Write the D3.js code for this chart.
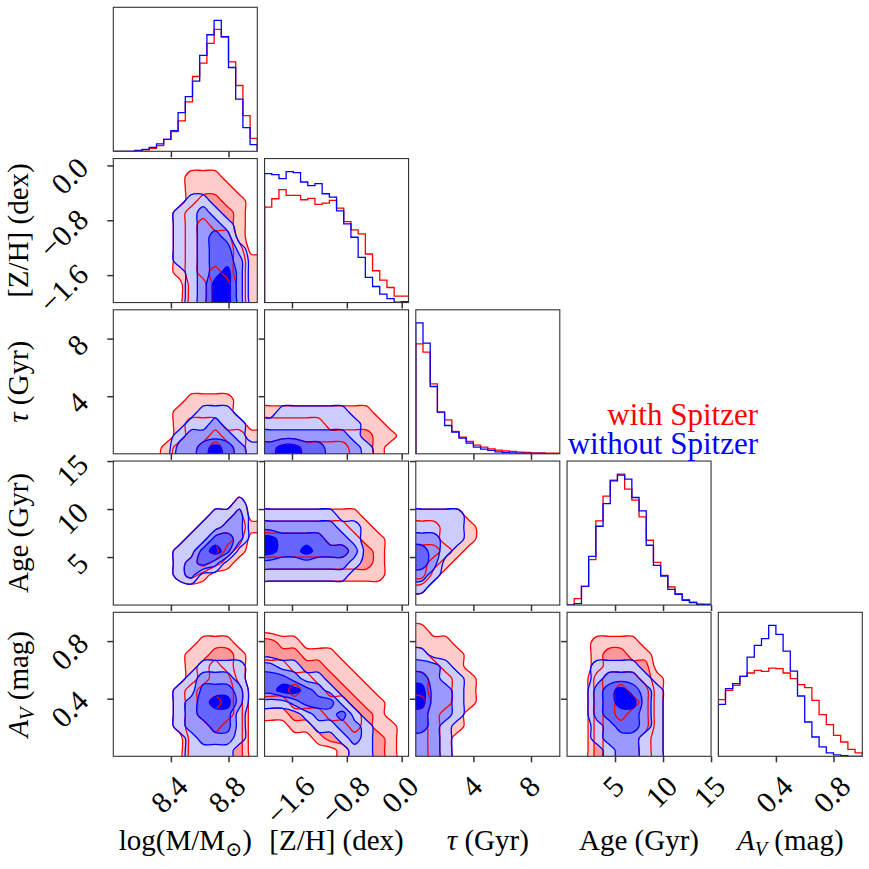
<!DOCTYPE html>
<html lang="en">
<head>
<meta charset="UTF-8">
<title>Corner plot: with / without Spitzer</title>
<script src="https://d3js.org/d3.v7.min.js"></script>
<style>
  body { margin: 0; background: #fff; }
  svg text { font-family: "Liberation Serif", "DejaVu Serif", serif; fill: #000; }
  .tick line { stroke: #333; stroke-width: 1.5; }
  .frame { fill: none; stroke: #333; stroke-width: 1.1; }
  .axis-label { font-size: 29px; }
  .legend { font-size: 31px; }
</style>
</head>
<body>
<svg width="869" height="869"></svg>
<script>
  // parameter order: log(M), [Z/H], tau, Age, A_V
  const axisRanges = [[8.0, 9.0], [-2.0, 0.1], [0, 10], [0, 15], [0, 1.0]];
  const axisTicks = [[8.4, 8.8], [-1.6, -0.8, 0.0], [4, 8], [5, 10, 15], [0.4, 0.8]];
  const axisTickText = [["8.4", "8.8"], ["−1.6", "−0.8", "0.0"], ["4", "8"], ["5", "10", "15"], ["0.4", "0.8"]];
  const axisLabelParts = [
    [["log(M/M", ""], ["⊙", "sub"], [")", ""]],
    [["[Z/H] (dex)", ""]],
    [["τ", "i"], [" (Gyr)", ""]],
    [["Age (Gyr)", ""]],
    [["A", "i"], ["V", "isub"], [" (mag)", ""]]
  ];
  const legendLabels = ["with Spitzer", "without Spitzer"];

  // 1D histograms, 20 bins over each range (relative counts)
  const histRedLogM  = [0, 0, 0, 2, 4, 9, 17, 36, 59, 91, 148, 224, 264, 323, 365, 343, 268, 197, 107, 39];
  const histBlueLogM = [0, 0, 0, 3, 6, 12, 22, 36, 62, 116, 164, 210, 287, 349, 392, 343, 251, 156, 71, 20];
  const histRedZH  = [285, 310, 337, 320, 320, 307, 311, 293, 297, 305, 282, 242, 217, 205, 145, 95, 67, 45, 19, 19];
  const histBlueZH = [385, 382, 370, 391, 388, 360, 349, 355, 325, 315, 274, 235, 195, 135, 75, 48, 25, 12, 1, 3];
  const histRedTau  = [330, 305, 210, 125, 102, 67, 50, 37, 26, 20, 15, 11, 9, 7, 5, 4, 3, 3, 2, 2];
  const histBlueTau = [393, 332, 202, 125, 85, 65, 47, 32, 20, 14, 10, 6, 4, 3, 2, 1.5, 1, 1, 0.5, 0.5];
  const histRedAge  = [0, 19, 56, 136, 252, 326, 374, 392, 347, 314, 264, 194, 128, 89, 54, 34, 16, 9, 3, 2];
  const histBlueAge = [0, 4, 56, 146, 236, 304, 372, 389, 377, 322, 282, 179, 119, 87, 47, 32, 14, 7, 2, 2];
  const histRedAv  = [170, 198, 213, 240, 250, 258, 255, 265, 263, 250, 233, 215, 206, 168, 125, 95, 63, 43, 21, 10];
  const histBlueAv = [156, 203, 218, 240, 298, 333, 353, 393, 366, 316, 256, 181, 103, 58, 28, 10, 4, 2, 0, 0];

  // 2D density levels on a 12x12 grid (rows top to bottom), 0 = outside, 4 = innermost
  const redZHLogM = ["000000000000", "000000111000", "000000111100", "000000122110", "000001222210", "000001232210",
                     "000001233310", "000001233320", "000001233321", "000001234321", "000000224421", "000000224421"];
  const blueZHLogM = ["000000000000", "000000000000", "000000000000", "000000110000", "000001121000", "000001122100",
                      "000001123200", "000001123310", "000001123320", "000000123420", "000000124420", "000000124420"];
  const redTauLogM = ["000000000000", "000000000000", "000000000000", "000000000000", "000000000000", "000000000000",
                      "000000000000", "000000111100", "000001111100", "000001222110", "000001223221", "000012234321"];
  const blueTauLogM = ["000000000000", "000000000000", "000000000000", "000000000000", "000000000000", "000000000000",
                       "000000000000", "000000000000", "000000011100", "000000112110", "000001222210", "000002234321"];
  const redTauZH = ["000000000000", "000000000000", "000000000000", "000000000000", "000000000000", "000000000000",
                    "000000000000", "000000000000", "111111111000", "222221111100", "222222222110", "344333322100"];
  const blueTauZH = ["000000000000", "000000000000", "000000000000", "000000000000", "000000000000", "000000000000",
                     "000000000000", "000000000000", "011111100000", "111111110000", "222222210000", "344332221000"];
  const redAgeLogM = ["000000000000", "000000000000", "000000000000", "000000000010", "000000001120", "000000011221",
                      "000000113320", "000001134210", "000001232100", "000001210000", "000000000000", "000000000000"];
  const blueAgeLogM = ["000000000000", "000000000000", "000000000000", "000000000010", "000000001120", "000000011220",
                       "000000113320", "000001134300", "000001232000", "000001200000", "000000000000", "000000000000"];
  const redAgeZH = ["000000000000", "000000000000", "000000000000", "000000000000", "111111110000", "222222211000",
                    "333332221100", "333333322100", "222222222100", "111111111100", "000000000000", "000000000000"];
  const blueAgeZH = ["000000000000", "000000000000", "000000000000", "000000000000", "111111000000", "222222110000",
                     "433332210000", "433433320000", "222222210000", "111111100000", "000000000000", "000000000000"];
  const redAgeTau = ["000000000000", "000000000000", "000000000000", "000000000000", "111100000000", "221110000000",
                     "221110000000", "332100000000", "321000000000", "310000000000", "100000000000", "000000000000"];
  const blueAgeTau = ["000000000000", "000000000000", "000000000000", "000000000000", "111100000000", "111100000000",
                      "221100000000", "321000000000", "320000000000", "210000000000", "100000000000", "000000000000"];
  const redAvLogM = ["000000000000", "000000000000", "000000011100", "000000112210", "000000123210", "000000123310",
                     "000001233320", "000001234320", "000001233320", "000001223220", "000000222220", "000000222220"];
  const blueAvLogM = ["000000000000", "000000000000", "000000000000", "000000000000", "000000011110", "000000122210",
                      "000001133320", "000001234420", "000001233310", "000001223310", "000000122210", "000000111100"];
  const redAvZH = ["000000000000", "000000000000", "211000000000", "222111000000", "332221100000", "333322110000",
                   "334332211000", "223333321100", "112223332100", "001122232110", "000012222210", "000000122210"];
  const blueAvZH = ["000000000000", "000000000000", "000000000000", "000000000000", "211000000000", "332110000000",
                    "344321000000", "112333100000", "000122310000", "000011221000", "000000121000", "000000011000"];
  const redAvTau = ["000000000000", "100000000000", "111000000000", "211100000000", "221100000000", "322110000000",
                    "322110000000", "422110000000", "321100000000", "321100000000", "321000000000", "321000000000"];
  const blueAvTau = ["000000000000", "000000000000", "000000000000", "100000000000", "221000000000", "321100000000",
                     "422100000000", "422100000000", "322100000000", "321000000000", "221000000000", "221000000000"];
  const redAvAge = ["000000000000", "000000000000", "001111000000", "001221100000", "001222200000", "002333210000",
                    "002343310000", "002344310000", "002343310000", "002333310000", "002333210000", "002333210000"];
  const blueAvAge = ["000000000000", "000000000000", "000000000000", "000000000000", "001111000000", "001222100000",
                     "002343210000", "002344210000", "002333210000", "001233210000", "001222110000", "000122110000"];

  const histRed = [histRedLogM, histRedZH, histRedTau, histRedAge, histRedAv];
  const histBlue = [histBlueLogM, histBlueZH, histBlueTau, histBlueAge, histBlueAv];
  const contourGrids = {
    "1,0": [redZHLogM, blueZHLogM],
    "2,0": [redTauLogM, blueTauLogM], "2,1": [redTauZH, blueTauZH],
    "3,0": [redAgeLogM, blueAgeLogM], "3,1": [redAgeZH, blueAgeZH], "3,2": [redAgeTau, blueAgeTau],
    "4,0": [redAvLogM, blueAvLogM], "4,1": [redAvZH, blueAvZH], "4,2": [redAvTau, blueAvTau], "4,3": [redAvAge, blueAvAge]
  };

  const nDim = 5, nBins = 20;
  const panelLeft = 113.3, panelTop = 7.3, panelStep = 151.25, panelSize = 144;
  const tickLen = 6, tickFont = 30, labelFont = 29;
  const serif = '"Liberation Serif", "DejaVu Serif", serif';
  const red = "#ff0000", blue = "#0000ff";
  const redFills = ["#ffcccc", "#ff9999", "#ff6666", "#ff0000"];
  const blueFills = ["#ccccff", "#9999ff", "#6666ff", "#0000ff"];
  const levels = [0.5, 1.5, 2.5, 3.5];

  const svg = d3.select("svg");

  // pad the grid by one replicated cell so contours run past the panel edge (then clipped)
  function gridContours(rows) {
    const m = rows.length, n = rows[0].length;
    const w = n + 2, h = m + 2;
    const values = new Array(w * h);
    for (let r = 0; r < h; r++) {
      const rr = Math.min(m - 1, Math.max(0, r - 1));
      for (let c = 0; c < w; c++) {
        const cc = Math.min(n - 1, Math.max(0, c - 1));
        values[r * w + c] = +rows[rr][cc];
      }
    }
    const contours = d3.contours().size([w, h]).thresholds(levels)(values);
    return {contours, n, m};
  }

  const ringLine = d3.line().curve(d3.curveCatmullRomClosed.alpha(0.5));

  // contour rings -> rounded svg path in pixel space
  function contourPath(info, x, y, xr, yr) {
    const toPx = ([gx, gy]) => [
      x(xr[0] + (gx - 1) / info.n * (xr[1] - xr[0])),
      y(yr[1] - (gy - 1) / info.m * (yr[1] - yr[0]))
    ];
    return multi => {
      let d = "";
      multi.coordinates.forEach(poly => poly.forEach(ring => {
        const pts = ring.slice(0, -1).map(toPx);
        if (pts.length > 2) d += ringLine(pts);
      }));
      return d || null;
    };
  }

  function styleTickText(sel) {
    sel.style("font-family", serif).style("font-size", tickFont + "px").style("fill", "#000");
  }

  for (let i = 0; i < nDim; i++) {
    for (let j = 0; j <= i; j++) {
      const left = panelLeft + j * panelStep;
      const top = panelTop + i * panelStep;
      const x = d3.scaleLinear().domain(axisRanges[j]).range([left, left + panelSize]);
      const clipId = `clip-${i}-${j}`;
      svg.append("clipPath").attr("id", clipId).append("rect")
        .attr("x", left).attr("y", top).attr("width", panelSize).attr("height", panelSize);

      const g = svg.append("g");
      const body = g.append("g").attr("clip-path", `url(#${clipId})`);
      let y;

      if (i === j) {
        const hr = histRed[i], hb = histBlue[i];
        y = d3.scaleLinear().domain([0, 1.1 * d3.max(hr.concat(hb))]).range([top + panelSize, top]);
        const r0 = axisRanges[i][0], r1 = axisRanges[i][1];
        const edges = d3.range(nBins + 1).map(k => r0 + k * (r1 - r0) / nBins);
        [[hr, red], [hb, blue]].forEach(([h, col]) => {
          const pts = [[edges[0], 0]];
          h.forEach((v, k) => { pts.push([edges[k], v], [edges[k + 1], v]); });
          pts.push([edges[nBins], 0]);
          body.append("path")
            .attr("d", d3.line().x(d => x(d[0])).y(d => y(d[1]))(pts))
            .attr("fill", "none").attr("stroke", col).attr("stroke-width", 1.3);
        });
      } else {
        y = d3.scaleLinear().domain(axisRanges[i]).range([top + panelSize, top]);
        const [redRows, blueRows] = contourGrids[`${i},${j}`];
        const rc = gridContours(redRows), bc = gridContours(blueRows);
        const rPath = contourPath(rc, x, y, axisRanges[j], axisRanges[i]);
        const bPath = contourPath(bc, x, y, axisRanges[j], axisRanges[i]);

        rc.contours.forEach((c, k) => body.append("path").attr("d", rPath(c))
          .attr("fill", redFills[k]).attr("fill-rule", "evenodd"));
        bc.contours.forEach((c, k) => body.append("path").attr("d", bPath(c))
          .attr("fill", blueFills[k]).attr("fill-rule", "evenodd"));
        rc.contours.forEach(c => body.append("path").attr("d", rPath(c))
          .attr("fill", "none").attr("stroke", red).attr("stroke-width", 1.3));
        bc.contours.forEach(c => body.append("path").attr("d", bPath(c))
          .attr("fill", "none").attr("stroke", blue).attr("stroke-width", 1.3));
      }

      g.append("rect").attr("class", "frame")
        .attr("x", left).attr("y", top).attr("width", panelSize).attr("height", panelSize);

      // x ticks on every panel, labels on the bottom row only
      const xAxis = d3.axisBottom(x).tickValues(axisTicks[j]).tickSize(tickLen).tickSizeOuter(0)
        .tickFormat(i === nDim - 1 ? (d, k) => axisTickText[j][k] : "");
      const gx = g.append("g").attr("transform", `translate(0,${top + panelSize})`).call(xAxis)
        .attr("font-size", null).attr("font-family", null);
      gx.select(".domain").remove();
      if (i === nDim - 1) {
        gx.selectAll(".tick text").call(styleTickText).each(function() {
          const w = this.getComputedTextLength();
          const s = (w + 0.66 * tickFont) / Math.SQRT2;
          d3.select(this).attr("x", 0).attr("y", 0.33 * tickFont).attr("dy", null)
            .attr("text-anchor", "middle")
            .attr("transform", `translate(-2,${18 + s / 2}) rotate(-45)`);
        });
      }

      // y ticks on 2D panels, labels in the first column
      if (i > j) {
        const yAxis = d3.axisLeft(y).tickValues(axisTicks[i]).tickSize(tickLen).tickSizeOuter(0)
          .tickFormat(j === 0 ? (d, k) => axisTickText[i][k] : "");
        const gy = g.append("g").attr("transform", `translate(${left},0)`).call(yAxis)
          .attr("font-size", null).attr("font-family", null);
        gy.select(".domain").remove();
        if (j === 0) {
          gy.selectAll(".tick text").call(styleTickText).each(function() {
            const w = this.getComputedTextLength();
            const s = (w + 0.66 * tickFont) / Math.SQRT2;
            d3.select(this).attr("x", 0).attr("y", 0.33 * tickFont).attr("dy", null)
              .attr("text-anchor", "middle")
              .attr("transform", `translate(${90 - left - s / 2},${s / 4}) rotate(-45)`);
          });
        }
      }
    }
  }

  function writeLabel(text, parts) {
    let shifted = 0;
    parts.forEach(([s, st]) => {
      const t = text.append("tspan").text(s);
      const sub = st === "sub" || st === "isub";
      if (st === "i" || st === "isub") t.attr("font-style", "italic");
      if (sub) t.attr("font-size", 0.7 * labelFont);
      const target = sub ? 0.22 * labelFont : 0;
      if (target !== shifted) { t.attr("dy", target - shifted); shifted = target; }
    });
  }

  for (let k = 0; k < nDim; k++) {
    const cx = panelLeft + k * panelStep + panelSize / 2;
    writeLabel(svg.append("text").attr("class", "axis-label")
      .attr("x", cx).attr("y", 850).attr("text-anchor", "middle"), axisLabelParts[k]);
    if (k > 0) {
      const cy = panelTop + k * panelStep + panelSize / 2;
      writeLabel(svg.append("text").attr("class", "axis-label")
        .attr("text-anchor", "middle")
        .attr("transform", `translate(28,${cy}) rotate(-90)`), axisLabelParts[k]);
    }
  }

  svg.append("text").attr("class", "legend").attr("x", 758).attr("y", 425)
    .attr("text-anchor", "end").style("fill", red).text(legendLabels[0]);
  svg.append("text").attr("class", "legend").attr("x", 758).attr("y", 454)
    .attr("text-anchor", "end").style("fill", blue).text(legendLabels[1]);
</script>
</body>
</html>
